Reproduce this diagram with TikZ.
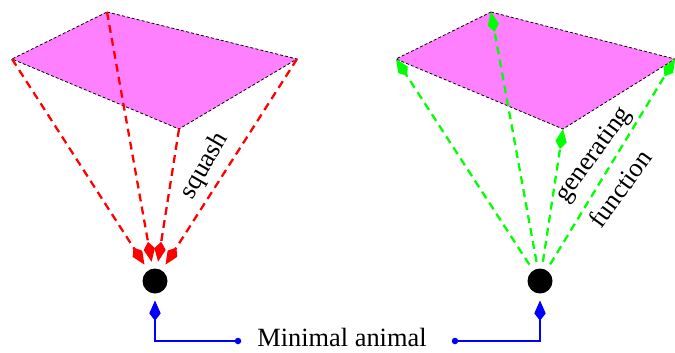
\documentclass[tikz,border=0pt]{standalone}
\usepackage{fontspec}
\setmainfont{Liberation Serif}
\usetikzlibrary{positioning, arrows.meta}
\definecolor{sheetPink}{HTML}{FF80FF}
\tikzset{
  sheet/.style={draw=black, line width=0.45pt, dash pattern=on 1.7pt off 1.2pt, fill=sheetPink},
  animal/.style={circle, fill=black, minimum size=0.5cm, inner sep=0pt, outer sep=4pt},
  pin/.style={circle, fill=blue, minimum size=0.13cm, inner sep=0pt},
  kitehead/.style={-{Kite[length=11.5pt, width=6.5pt, inset=4.2pt]}},
  squashline/.style={red, line width=1.3pt, dash pattern=on 4.5pt off 3pt, kitehead},
  genline/.style={green, line width=1.3pt, dash pattern=on 4.5pt off 3pt, kitehead},
  pointer/.style={blue, line width=0.7pt, kitehead},
  caption/.style={font=\fontsize{15}{25}\selectfont, inner sep=0pt}
}
\begin{document}
\begin{tikzpicture}[x=0.02cm, y=-0.02cm]
  \useasboundingbox (0,0) rectangle (675,352);
  % ---- squash (left) ----
  \coordinate (lt) at (107,12);
  \coordinate (ll) at (12,59);
  \coordinate (lb) at (179,129);
  \coordinate (lr) at (297,59);
  \draw[sheet] (lt) -- (lr) -- (lb) -- (ll) -- cycle;
  \node[animal] (lanimal) at (155,281) {};
  \foreach \c in {ll,lt,lb,lr}
    \draw[squashline] (\c) -- (lanimal);
  \node[caption, rotate=60] (squash) at (205,166) {squash};
  % ---- generating function (right) ----
  \coordinate (rt) at (491,12);
  \coordinate (rl) at (396,59);
  \coordinate (rb) at (563,129);
  \coordinate (rr) at (675,59);
  \draw[sheet] (rt) -- (rr) -- (rb) -- (rl) -- cycle;
  \node[animal] (ranimal) at (540,281) {};
  \foreach \c in {rl,rt,rb,rr}
    \draw[genline] (ranimal) -- (\c);
  \node[caption, rotate=54, align=left, anchor=south west] (genfun) at (602,230) {generating\\function};
  % ---- minimal animal ----
  \node[caption, anchor=base] (minimal) at (342,346) {Minimal animal};
  \node[pin] (lpin) at (238,341) {};
  \node[pin] (rpin) at (455,341) {};
  \draw[pointer] (lpin.center) -| (lanimal);
  \draw[pointer] (rpin.center) -| (ranimal);
\end{tikzpicture}
\end{document}
